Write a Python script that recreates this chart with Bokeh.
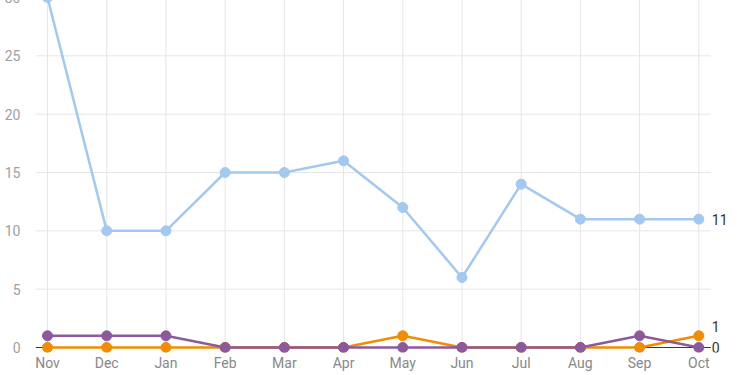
from bokeh.plotting import figure
from bokeh.models import Label, FixedTicker, Range1d
from bokeh.embed import file_html
from bokeh.resources import INLINE

months = ["Nov", "Dec", "Jan", "Feb", "Mar", "Apr", "May", "Jun", "Jul", "Aug", "Sep", "Oct"]
series_blue = [30, 10, 10, 15, 15, 16, 12, 6, 14, 11, 11, 11]
series_orange = [0, 0, 0, 0, 0, 0, 1, 0, 0, 0, 0, 1]
series_purple = [1, 1, 1, 0, 0, 0, 0, 0, 0, 0, 1, 0]
y_ticks = [0, 5, 10, 15, 20, 25, 30]

BLUE = "#a3c9f1"
ORANGE = "#f28c00"
PURPLE = "#8c5a9c"
FONT = "Roboto"

xs = list(range(len(months)))
pad = 0.203
x_lo, x_hi = xs[0] - pad, xs[-1] + pad
y_top = y_ticks[-1] + 0.6

p = figure(width=734, height=383, output_backend="svg", toolbar_location=None,
           x_range=Range1d(x_lo, xs[-1] + 0.603),
           y_range=Range1d(-0.43, y_top),
           min_border_left=35, min_border_right=0, min_border_top=0, min_border_bottom=0)
p.margin = (-10, 0, 0, 0)
p.outline_line_color = None
p.background_fill_color = "white"

# axes
p.xaxis.ticker = FixedTicker(ticks=xs)
p.xaxis.major_label_overrides = {i: m for i, m in enumerate(months)}
p.yaxis.ticker = FixedTicker(ticks=y_ticks)
for ax in (p.xaxis[0], p.yaxis[0]):
    ax.axis_line_color = None
    ax.major_tick_line_color = None
    ax.minor_tick_line_color = None
    ax.major_label_text_font = FONT
    ax.major_label_text_font_size = "14px"
p.xaxis.major_label_text_color = "#888888"
p.yaxis.major_label_text_color = "#a0a0a0"
p.xaxis.major_label_standoff = -4
p.yaxis.major_label_standoff = 9

# grid (drawn as segments so it stops at the data area)
p.xgrid.visible = False
p.ygrid.visible = False
grid_y = y_ticks[1:]
p.segment(x0=[x_lo] * len(grid_y), x1=[x_hi] * len(grid_y), y0=grid_y, y1=grid_y,
          line_color="#e6e6e6", line_width=1)
p.segment(x0=xs, x1=xs, y0=[0] * len(xs), y1=[y_top] * len(xs),
          line_color="#e6e6e6", line_width=1)
p.segment(x0=[x_lo], x1=[x_hi], y0=[0], y1=[0], line_color="#333333", line_width=1)

for vals, col in ((series_blue, BLUE), (series_orange, ORANGE), (series_purple, PURPLE)):
    p.line(xs, vals, line_color=col, line_width=2.5)
    p.scatter(xs, vals, size=10, fill_color=col, line_color=col)

# end labels
for vals, off in ((series_blue, 0), (series_orange, 9), (series_purple, 0)):
    p.add_layout(Label(x=xs[-1], y=vals[-1], text=str(vals[-1]), x_offset=13, y_offset=off,
                       text_font=FONT, text_font_size="14px", text_color="#333333",
                       text_baseline="middle"))

open("out.html", "w").write(file_html(p, INLINE))
